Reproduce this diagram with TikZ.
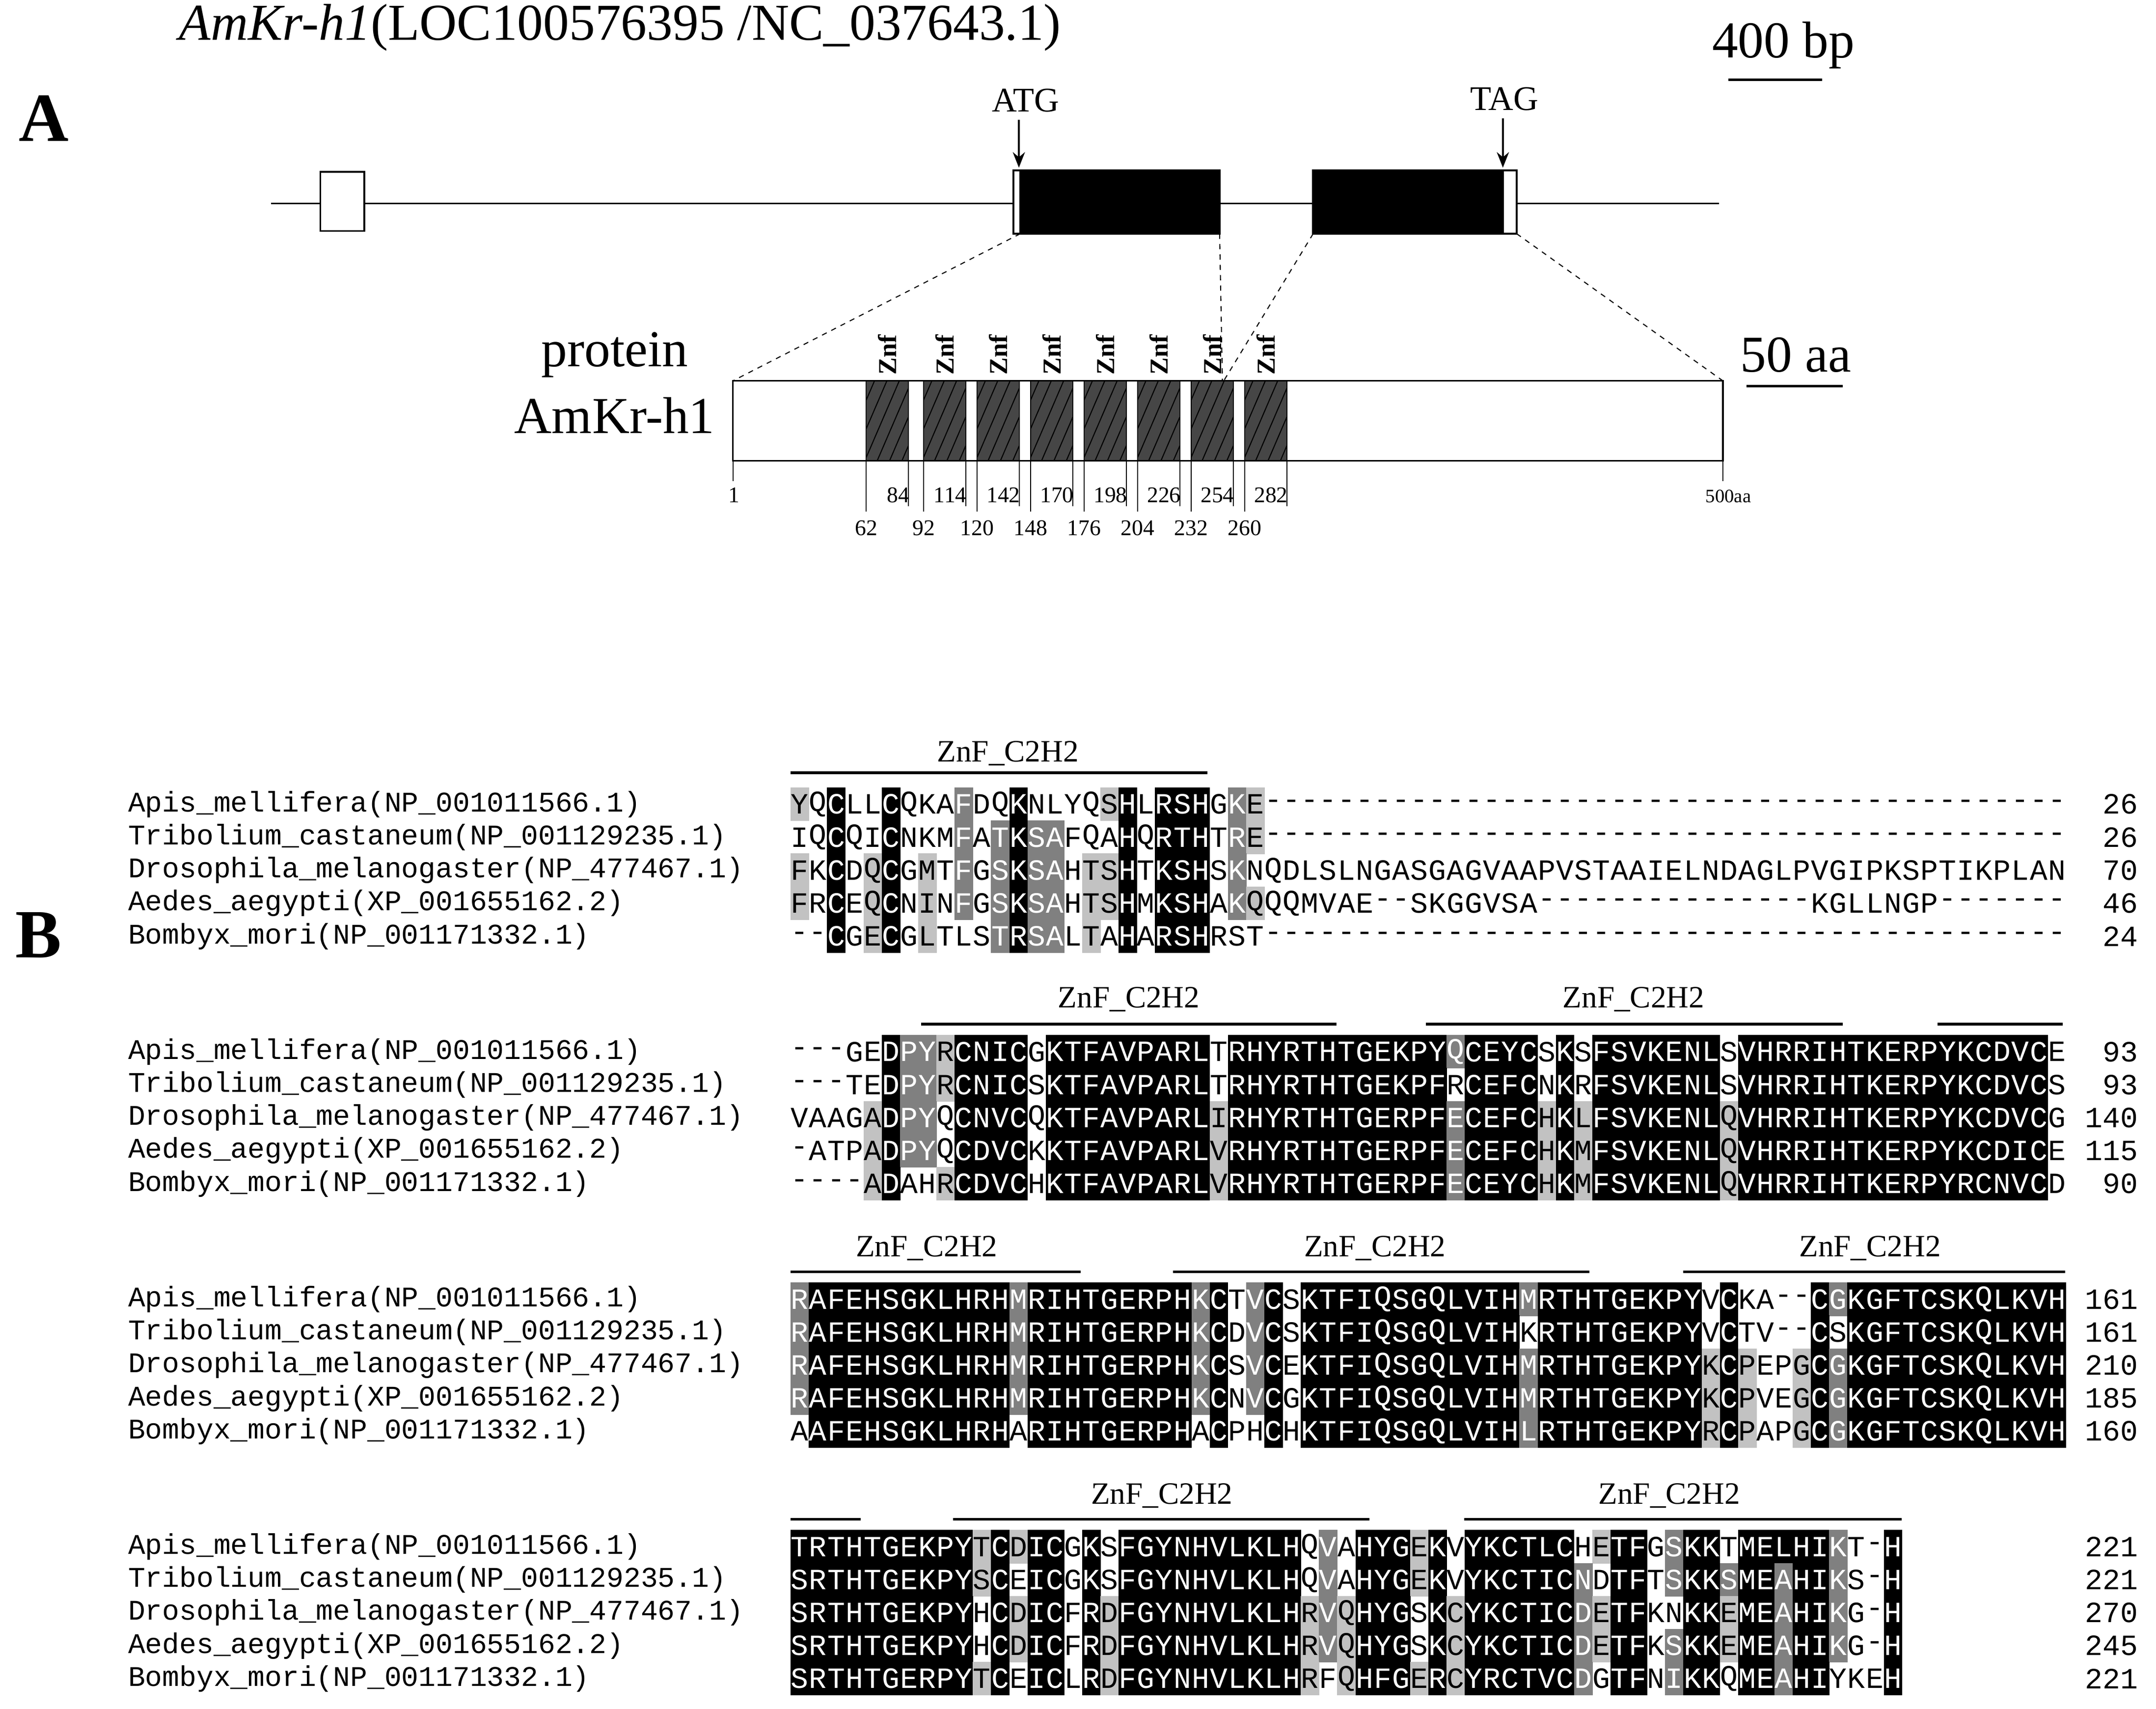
\documentclass[tikz,border=0pt]{standalone}
\usepackage{fontspec}
\setmainfont{Liberation Serif}
\newfontfamily\monof{Liberation Mono}
\usetikzlibrary{patterns.meta,arrows.meta}
\definecolor{gdark}{gray}{0.5}
\definecolor{glight}{gray}{0.76}
\def\shk{black}\def\shd{gdark}\def\shl{glight}\def\shn{none}
\def\txk{white}\def\txd{white}\def\txl{black}\def\txn{black}
\def\mstep#1#2\relax#3#4\relax{%
  \pgfmathsetmacro\xx{575+13.25*\cx}%
  \edef\shc{\csname sh#3\endcsname}\edef\txc{\csname tx#3\endcsname}%
  \fill[fill=\shc] (\xx,\cy-12.2) rectangle ++(13.5,24.4);
  \node[res,text=\txc] at (\xx+6.625,\cy) {#1};
  \pgfmathtruncatemacro\cx{\cx+1}%
  \if\relax\detokenize{#2}\relax\else\mstep#2\relax#4\relax\fi}
\newcommand\mrow[5]{\def\cy{#1}\def\cx{0}%
  \node[nm] at (93,#1) {#2};
  \node[num] at (1555,#1) {#5};
  \mstep#3\relax#4 nnnnnnnnnnnnnnnnnnnnnnnnnnnnnnnnnnnnnnnnnnnnnnnnnnnnnnnnnnnnnnnnnnnnnn\relax}
\tikzset{
 res/.style={font=\monof\fontsize{17}{17}\selectfont,inner sep=0pt},
 nm/.style={font=\monof\fontsize{16.5}{17}\selectfont,anchor=west,inner sep=0pt},
 num/.style={font=\monof\fontsize{17}{17}\selectfont,anchor=east,inner sep=0pt},
 znl/.style={font=\fontsize{18}{18}\selectfont,inner sep=0pt},
 zline/.style={line width=1.6pt},
 tick/.style={font=\fontsize{13}{13}\selectfont,inner sep=0pt},
}
\begin{document}
\begin{tikzpicture}[x=0.028cm,y=-0.028cm]
\useasboundingbox (0,0) rectangle (1568,1243);
% ---------- Part A
\node[font=\bfseries\fontsize{40}{40}\selectfont,inner sep=0pt] (lA) at (32,86) {A};
\node[font=\fontsize{30}{30}\selectfont,anchor=west,inner sep=0pt] (title) at (130,20) {\itshape AmKr-h1\upshape(LOC100576395 /NC\_037643.1)};
\node[font=\fontsize{30}{30}\selectfont,inner sep=0pt] (bp) at (1297,33) {400 bp};
\draw[line width=1.4pt] (1257,58) -- (1325,58);
\coordinate (g0) at (197,148); \coordinate (g1) at (1250,148);
\draw[line width=1.1pt] (g0) -- (g1);
\draw[line width=1.1pt,fill=white] (233,125) rectangle (265,168);
\draw[line width=1.1pt,fill=white] (737,124) rectangle (742,170);
\draw[line width=1.1pt,fill=black] (742,124) rectangle (887,170);
\draw[line width=1.1pt,fill=black] (955,124) rectangle (1093,170);
\draw[line width=1.1pt,fill=white] (1093,124) rectangle (1103,170);
\node[font=\fontsize{20}{20}\selectfont,inner sep=0pt] (atg) at (746,73) {ATG};
\node[font=\fontsize{20}{20}\selectfont,inner sep=0pt] (tag) at (1094,72) {TAG};
\draw[line width=1.2pt,-{Stealth[length=9pt,width=7pt]}] (741,87) -- (741,122);
\draw[line width=1.2pt,-{Stealth[length=9pt,width=7pt]}] (1093,86) -- (1093,122);
\draw[dashed,line width=0.6pt] (742,170) -- (533,277);
\draw[dashed,line width=0.6pt] (887,170) -- (889,277);
\draw[dashed,line width=0.6pt] (955,170) -- (890,277);
\draw[dashed,line width=0.6pt] (1103,170) -- (1253,277);
\node[font=\fontsize{30}{30}\selectfont,inner sep=0pt] (pr) at (447,258) {protein};
\node[font=\fontsize{30}{30}\selectfont,inner sep=0pt] (pn) at (447,302) {AmKr-h1};
\node[font=\fontsize{30}{30}\selectfont,inner sep=0pt] (aa50) at (1306,258) {50 aa};
\draw[line width=1.4pt] (1270,281) -- (1340,281);
\draw[line width=0.9pt] (533,277) rectangle (1253,335);
\foreach \s in {62,92,120,148,176,204,232,260}{
  \pgfmathsetmacro\xa{630+(\s-62)*1.39}
  \pgfmathsetmacro\xb{630+(\s-40)*1.39}
  \pgfmathtruncatemacro\e{\s+22}
  \fill[gray!55!black] (\xa,277) rectangle (\xb,335);
  \begin{scope}
  \clip (\xa,277) rectangle (\xb,335);
  \foreach \k in {-3,...,5} \draw[black,line width=0.6pt] (\xa+\k*9-10,335) -- ++(25,-58);
  \end{scope}
  \draw[line width=0.6pt] (\xa,277) rectangle (\xb,335);
  \draw[line width=0.6pt] (\xa,335) -- (\xa,372);
  \draw[line width=0.6pt] (\xb,335) -- (\xb,368);
  \node[tick] at (\xa,384) {\s};
  \node[tick,anchor=east] at (\xb+1,360) {\e};
  \node[font=\bfseries\fontsize{15}{15}\selectfont,rotate=90,inner sep=0pt] at ({(\xa+\xb)/2},258) {Znf};
}
\draw[line width=0.6pt] (533,335) -- (533,350);
\draw[line width=0.6pt] (1253,335) -- (1253,350);
\node[tick] (t1) at (534,360) {1};
\node[font=\fontsize{11}{11}\selectfont,inner sep=0pt] (t500) at (1257,361) {500aa};
% ---------- Part B
\node[font=\bfseries\fontsize{40}{40}\selectfont,inner sep=0pt] (lB) at (28,680) {B};
% block 1
\node[znl] at (733,548) {ZnF\_C2H2};
\draw[zline] (575,562) -- (878,562);
\mrow{585}{Apis\_mellifera(NP\_001011566.1)}{YQCLLCQKAFDQKNLYQSHLRSHGKE--------------------------------------------}{lnknn knnnd nnknn nnlkn kkkndl}{26}
\mrow{609}{Tribolium\_castaneum(NP\_001129235.1)}{IQCQICNKMFATKSAFQAHQRTHTRE--------------------------------------------}{nnknn knnnd ndkdd nnnkn kkkndl}{26}
\mrow{633}{Drosophila\_melanogaster(NP\_477467.1)}{FKCDQCGMTFGSKSAHTSHTKSHSKNQDLSLNGASGAGVAAPVSTAAIELNDAGLPVGIPKSPTIKPLAN}{lnknl knlnd ndkdd nllkn kkkndn}{70}
\mrow{657}{Aedes\_aegypti(XP\_001655162.2)}{FRCEQCNINFGSKSAHTSHMKSHAKQQQMVAE--SKGGVSA---------------KGLLNGP-------}{lnknl knlnd ndkdd nllkn kkkndl}{46}
\mrow{681}{Bombyx\_mori(NP\_001171332.1)}{--CGECGLTLSTRSALTAHARSHRST--------------------------------------------}{nnknl knlnn ndkdd nlnkn kkknnn}{24}
% block 2
\node[znl] at (821,727) {ZnF\_C2H2};
\node[znl] at (1188,727) {ZnF\_C2H2};
\draw[zline] (670,745) -- (972,745);
\draw[zline] (1037,745) -- (1340,745);
\draw[zline] (1409,745) -- (1500,745);
\mrow{765}{Apis\_mellifera(NP\_001011566.1)}{---GEDPYRCNICGKTFAVPARLTRHYRTHTGEKPYQCEYCSKSFSVKENLSVHRRIHTKERPYKCDVCE}{nnnnn k dd l kkkk n kkkkk kkkk n kkkkkkkkkk kk d kkkk n k n kkkkkkk n kkkkkkkkkk kkkkkkk n}{93}
\mrow{789}{Tribolium\_castaneum(NP\_001129235.1)}{---TEDPYRCNICSKTFAVPARLTRHYRTHTGEKPFRCEFCNKRFSVKENLSVHRRIHTKERPYKCDVCS}{nnnnn k dd l kkkk n kkkkk kkkk n kkkkkkkkkk kk n kkkk n k n kkkkkkk n kkkkkkkkkk kkkkkkk n}{93}
\mrow{813}{Drosophila\_melanogaster(NP\_477467.1)}{VAAGADPYQCNVCQKTFAVPARLIRHYRTHTGERPFECEFCHKLFSVKENLQVHRRIHTKERPYKCDVCG}{nnnnl k dd n kkkk n kkkkk kkkk l kkkkkkkkkk kk d kkkk l k l kkkkkkk l kkkkkkkkkk kkkkkkk n}{140}
\mrow{837}{Aedes\_aegypti(XP\_001655162.2)}{-ATPADPYQCDVCKKTFAVPARLVRHYRTHTGERPFECEFCHKMFSVKENLQVHRRIHTKERPYKCDICE}{nnnnl k dd n kkkk n kkkkk kkkk l kkkkkkkkkk kk d kkkk l k l kkkkkkk l kkkkkkkkkk kkkkkkk n}{115}
\mrow{861}{Bombyx\_mori(NP\_001171332.1)}{----ADAHRCDVCHKTFAVPARLVRHYRTHTGERPFECEYCHKMFSVKENLQVHRRIHTKERPYRCNVCD}{nnnnl k nn l kkkk n kkkkk kkkk l kkkkkkkkkk kk d kkkk l k l kkkkkkk l kkkkkkkkkk kkkkkkk n}{90}
% block 3
\node[znl] at (674,908) {ZnF\_C2H2};
\node[znl] at (1000,908) {ZnF\_C2H2};
\node[znl] at (1360,908) {ZnF\_C2H2};
\draw[zline] (575,925) -- (786,925);
\draw[zline] (853,925) -- (1156,925);
\draw[zline] (1224,925) -- (1502,925);
\mrow{945}{Apis\_mellifera(NP\_001011566.1)}{RAFEHSGKLHRHMRIHTGERPHKCTVCSKTFIQSGQLVIHMRTHTGEKPYVCKA--CGKGFTCSKQLKVH}{d kkkkkkkkkk k d kkkkk kkkk d k n d k n kkkkkkkkkk kk d kkkkk kkkk n k n n n n k d kkkkkkkkkk kk}{161}
\mrow{969}{Tribolium\_castaneum(NP\_001129235.1)}{RAFEHSGKLHRHMRIHTGERPHKCDVCSKTFIQSGQLVIHKRTHTGEKPYVCTV--CSKGFTCSKQLKVH}{d kkkkkkkkkk k d kkkkk kkkk d k n d k n kkkkkkkkkk kk n kkkkk kkkk n k n n n n k n kkkkkkkkkk kk}{161}
\mrow{993}{Drosophila\_melanogaster(NP\_477467.1)}{RAFEHSGKLHRHMRIHTGERPHKCSVCEKTFIQSGQLVIHMRTHTGEKPYKCPEPGCGKGFTCSKQLKVH}{d kkkkkkkkkk k d kkkkk kkkk d k n d k n kkkkkkkkkk kk d kkkkk kkkk l k l n n l k d kkkkkkkkkk kk}{210}
\mrow{1017}{Aedes\_aegypti(XP\_001655162.2)}{RAFEHSGKLHRHMRIHTGERPHKCNVCGKTFIQSGQLVIHMRTHTGEKPYKCPVEGCGKGFTCSKQLKVH}{d kkkkkkkkkk k d kkkkk kkkk d k n d k n kkkkkkkkkk kk d kkkkk kkkk l k l n n l k d kkkkkkkkkk kk}{185}
\mrow{1041}{Bombyx\_mori(NP\_001171332.1)}{AAFEHSGKLHRHARIHTGERPHACPHCHKTFIQSGQLVIHLRTHTGEKPYRCPAPGCGKGFTCSKQLKVH}{n kkkkkkkkkk k n kkkkk kkkk n k n n k n kkkkkkkkkk kk d kkkkk kkkk l k l n n l k d kkkkkkkkkk kk}{160}
% block 4
\node[znl] at (845,1088) {ZnF\_C2H2};
\node[znl] at (1214,1088) {ZnF\_C2H2};
\draw[zline] (575,1105) -- (626,1105);
\draw[zline] (693,1105) -- (996,1105);
\draw[zline] (1065,1105) -- (1383,1105);
\mrow{1125}{Apis\_mellifera(NP\_001011566.1)}{TRTHTGEKPYTCDICGKSFGYNHVLKLHQVAHYGEKVYKCTLCHETFGSKKTMELHIKT-H}{kkkkkkkkkk l k l kk n k n kkkkkkkkkk n d n kkk l k n kkkkkk n l kk n d kk n kk k kk d n n k}{221}
\mrow{1149}{Tribolium\_castaneum(NP\_001129235.1)}{SRTHTGEKPYSCEICGKSFGYNHVLKLHQVAHYGEKVYKCTICNDTFTSKKSMEAHIKS-H}{kkkkkkkkkk l k n kk n k n kkkkkkkkkk n d n kkk l k n kkkkkk d n kk n d kk d kk d kk d n n k}{221}
\mrow{1173}{Drosophila\_melanogaster(NP\_477467.1)}{SRTHTGEKPYHCDICFRDFGYNHVLKLHRVQHYGSKCYKCTICDETFKNKKEMEAHIKG-H}{kkkkkkkkkk n k l kk n k l kkkkkkkkkk l d l kkk n k l kkkkkk d l kk n n kk l kk d kk d n n k}{270}
\mrow{1197}{Aedes\_aegypti(XP\_001655162.2)}{SRTHTGEKPYHCDICFRDFGYNHVLKLHRVQHYGSKCYKCTICDETFKSKKEMEAHIKG-H}{kkkkkkkkkk n k l kk n k l kkkkkkkkkk l d l kkk n k l kkkkkk d l kk n d kk l kk d kk d n n k}{245}
\mrow{1221}{Bombyx\_mori(NP\_001171332.1)}{SRTHTGERPYTCEICLRDFGYNHVLKLHRFQHFGERCYRCTVCDGTFNIKKQMEAHIYKEH}{kkkkkkkkkk l k n kk n k l kkkkkkkkkk l n l kkk l k l kkkkkk d n kk n d kk n kk d kk n n n k}{221}
\end{tikzpicture}
\end{document}
